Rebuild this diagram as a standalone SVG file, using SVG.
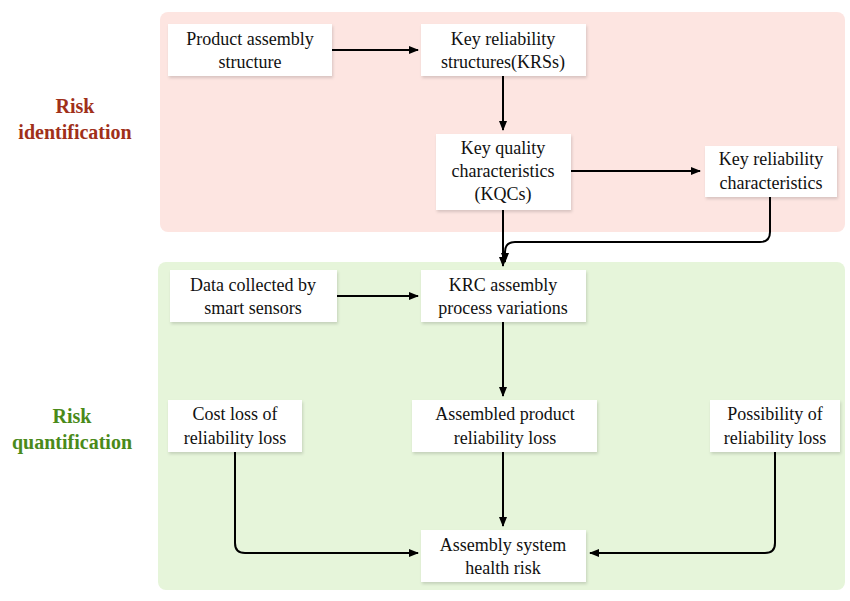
<svg xmlns="http://www.w3.org/2000/svg" width="850" height="601" viewBox="0 0 850 601">
<defs>
<marker id="ah" markerWidth="10" markerHeight="8" refX="9" refY="4" orient="auto" markerUnits="userSpaceOnUse"><path d="M0,0 L10,4 L0,8 z" fill="#000"/></marker>
<filter id="sh" x="-10%" y="-10%" width="120%" height="130%"><feDropShadow dx="1" dy="2" stdDeviation="1.5" flood-color="#000" flood-opacity="0.15"/></filter>
</defs>
<style>
.box{fill:#fff;filter:url(#sh)}
.t{font-family:"Liberation Serif","Times New Roman",serif;font-size:18px;fill:#111;text-anchor:middle}
.lab{font-family:"Liberation Serif","Times New Roman",serif;font-size:20px;font-weight:bold;text-anchor:middle}
.c{fill:none;stroke:#000;stroke-width:2;marker-end:url(#ah)}
</style>
<rect width="850" height="601" fill="#fff"/>
<rect x="160" y="12" width="685" height="220" rx="8" fill="#fde5e1"/>
<rect x="158" y="262" width="687" height="328" rx="8" fill="#e6f5da"/>
<text class="lab" fill="#a0301a" x="75" y="113">Risk</text>
<text class="lab" fill="#a0301a" x="75" y="139">identification</text>
<text class="lab" fill="#4a8a1a" x="72" y="423">Risk</text>
<text class="lab" fill="#4a8a1a" x="72" y="449">quantification</text>
<g id="connectors">
<path class="c" d="M332,50 H418"/>
<path class="c" d="M503,76 V130"/>
<path class="c" d="M571,171 H700"/>
<path class="c" d="M503,210 V266"/>
<path class="c" d="M770,197 V232 Q770,242 760,242 H515 Q505,242 505,252 V262" marker-end="none"/>
<path class="c" d="M337,296 H418"/>
<path class="c" d="M503,322 V396"/>
<path class="c" d="M503,452 V526"/>
<path class="c" d="M235,452 V543 Q235,553 245,553 H418"/>
<path class="c" d="M775,452 V543 Q775,553 765,553 H590"/>
</g>
<g id="n1"><rect class="box" x="168" y="24" width="164" height="52"/><text class="t" x="250" y="45">Product assembly</text><text class="t" x="250" y="68">structure</text></g>
<g id="n2"><rect class="box" x="421" y="24" width="165" height="52"/><text class="t" x="503" y="45">Key reliability</text><text class="t" x="503" y="68">structures(KRSs)</text></g>
<g id="n3"><rect class="box" x="436" y="134" width="135" height="76"/><text class="t" x="503" y="154">Key quality</text><text class="t" x="503" y="177">characteristics</text><text class="t" x="503" y="200">(KQCs)</text></g>
<g id="n4"><rect class="box" x="705" y="146" width="132" height="51"/><text class="t" x="771" y="165">Key reliability</text><text class="t" x="771" y="189">characteristics</text></g>
<g id="n5"><rect class="box" x="170" y="270" width="167" height="52"/><text class="t" x="253" y="291">Data collected by</text><text class="t" x="253" y="314">smart sensors</text></g>
<g id="n6"><rect class="box" x="421" y="270" width="165" height="52"/><text class="t" x="503" y="291">KRC assembly</text><text class="t" x="503" y="314">process variations</text></g>
<g id="n7"><rect class="box" x="168" y="400" width="134" height="52"/><text class="t" x="235" y="420">Cost loss of</text><text class="t" x="235" y="444">reliability loss</text></g>
<g id="n8"><rect class="box" x="412" y="400" width="185" height="52"/><text class="t" x="505" y="420">Assembled product</text><text class="t" x="505" y="444">reliability loss</text></g>
<g id="n9"><rect class="box" x="710" y="400" width="130" height="52"/><text class="t" x="775" y="420">Possibility of</text><text class="t" x="775" y="444">reliability loss</text></g>
<g id="n10"><rect class="box" x="421" y="530" width="165" height="52"/><text class="t" x="503" y="551">Assembly system</text><text class="t" x="503" y="574">health risk</text></g>
</svg>
